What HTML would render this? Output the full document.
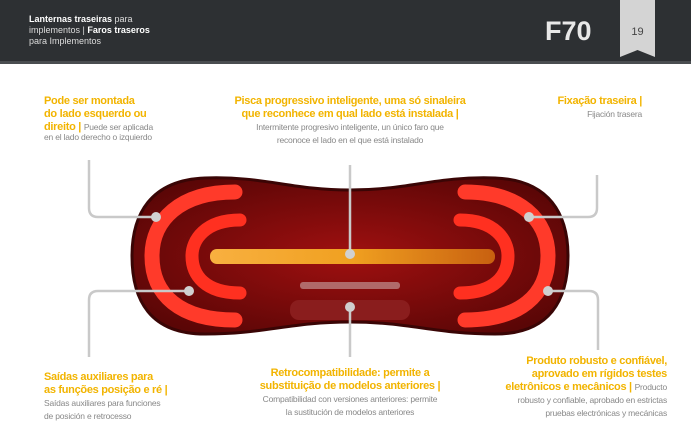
<!DOCTYPE html>
<html><head><meta charset="utf-8"><style>
body{margin:0;width:691px;height:433px;background:#fff;position:relative;overflow:hidden;font-family:"Liberation Sans",sans-serif}
.hd{position:absolute;left:0;top:0;width:691px;height:61px;background:#2d3033;border-bottom:3px solid #4a4d50}
.t{position:absolute;font-size:11px;line-height:13px;color:#f2b400;font-weight:bold;letter-spacing:-0.3px}
.s{color:#888;font-weight:normal;font-size:8.5px;line-height:11px;letter-spacing:-0.2px}
</style></head><body>
<div class="hd"></div>
<div style="position:absolute;left:29px;top:14px;color:#ddd;font-size:9px;line-height:11px">
<b style="color:#fff">Lanternas traseiras</b> para<br>implementos | <b style="color:#fff">Faros traseros</b><br>para Implementos</div>
<div style="position:absolute;left:545px;top:16px;color:#e8e8e8;font-size:27px;font-weight:bold">F70</div>
<svg style="position:absolute;left:620px;top:0" width="35" height="60"><polygon points="0,0 35,0 35,57 17.5,50 0,57" fill="#d4d4d4"/><text x="17.5" y="35" font-size="11" fill="#444" text-anchor="middle" font-family="Liberation Sans">19</text></svg>

<svg style="position:absolute;left:0;top:0" width="691" height="433">
<defs>
<radialGradient id="g" cx="50%" cy="50%" r="60%"><stop offset="0" stop-color="#a01010"/><stop offset="1" stop-color="#5a0606"/></radialGradient>
<linearGradient id="y" x1="0" x2="1"><stop offset="0" stop-color="#f8b040"/><stop offset="0.5" stop-color="#f0a020"/><stop offset="1" stop-color="#c86010"/></linearGradient>
</defs>
<path d="M205,178 C265,176 290,190 350,190 C410,190 435,176 495,178 C550,180 568,215 568,256 C568,300 550,334 495,334 C435,334 410,322 350,322 C290,322 265,334 205,334 C150,334 132,300 132,256 C132,215 150,180 205,178 Z" fill="url(#g)" stroke="#3a0505" stroke-width="3"/>
<path d="M235,192 C180,192 152,220 152,256 C152,295 180,320 235,320" fill="none" stroke="#ff3a2a" stroke-width="15" stroke-linecap="round"/>
<path d="M465,192 C520,192 548,220 548,256 C548,295 520,320 465,320" fill="none" stroke="#ff3a2a" stroke-width="15" stroke-linecap="round"/>
<path d="M240,220 C205,220 192,240 192,256 C192,275 205,293 240,293" fill="none" stroke="#ff3020" stroke-width="13" stroke-linecap="round"/>
<path d="M460,220 C495,220 508,240 508,256 C508,275 495,293 460,293" fill="none" stroke="#ff3020" stroke-width="13" stroke-linecap="round"/>
<rect x="210" y="249" width="285" height="15" rx="7" fill="url(#y)"/>
<rect x="290" y="300" width="120" height="20" rx="9" fill="#8a1d1d"/>
<rect x="300" y="282" width="100" height="7" rx="3" fill="#b06a6a"/>
<g stroke="#c9c9c9" stroke-width="2.5" fill="none">
<path d="M89,160 V208 Q89,217 98,217 H156"/>
<path d="M597,175 V208 Q597,217 588,217 H529"/>
<path d="M350,165 V254"/>
<path d="M89,357 V300 Q89,291 98,291 H189"/>
<path d="M598,350 V300 Q598,291 589,291 H548"/>
<path d="M350,307 V357"/>
</g>
<g fill="#d0d0d0"><circle cx="156" cy="217" r="5"/><circle cx="529" cy="217" r="5"/><circle cx="350" cy="254" r="5"/><circle cx="189" cy="291" r="5"/><circle cx="548" cy="291" r="5"/><circle cx="350" cy="307" r="5"/></g>
</svg>

<div class="t" style="left:44px;top:95px">Pode ser montada<br>do lado esquerdo ou<br>direito | <span class="s">Puede ser aplicada</span><br><span class="s" style="position:relative;top:-3px">en el lado derecho o izquierdo</span></div>
<div class="t" style="left:200px;top:95px;width:300px;text-align:center">Pisca progressivo inteligente, uma só sinaleira<br>que reconhece em qual lado está instalada |<br><span class="s">Intermitente progresivo inteligente, un único faro que<br>reconoce el lado en el que está instalado</span></div>
<div class="t" style="left:500px;top:95px;width:142px;text-align:right">Fixação traseira |<br><span class="s">Fijación trasera</span></div>
<div class="t" style="left:44px;top:371px">Saídas auxiliares para<br>as funções posição e ré |<br><span class="s">Saídas auxiliares para funciones<br>de posición e retrocesso</span></div>
<div class="t" style="left:215px;top:367px;width:270px;text-align:center">Retrocompatibilidade: permite a<br>substituição de modelos anteriores |<br><span class="s">Compatibilidad con versiones anteriores: permite<br>la sustitución de modelos anteriores</span></div>
<div class="t" style="left:470px;top:355px;width:197px;text-align:right">Produto robusto e confiável,<br>aprovado em rígidos testes<br>eletrônicos e mecânicos | <span class="s">Producto</span><br><span class="s">robusto y confiable, aprobado en estrictas<br>pruebas electrónicas y mecánicas</span></div>
</body></html>
